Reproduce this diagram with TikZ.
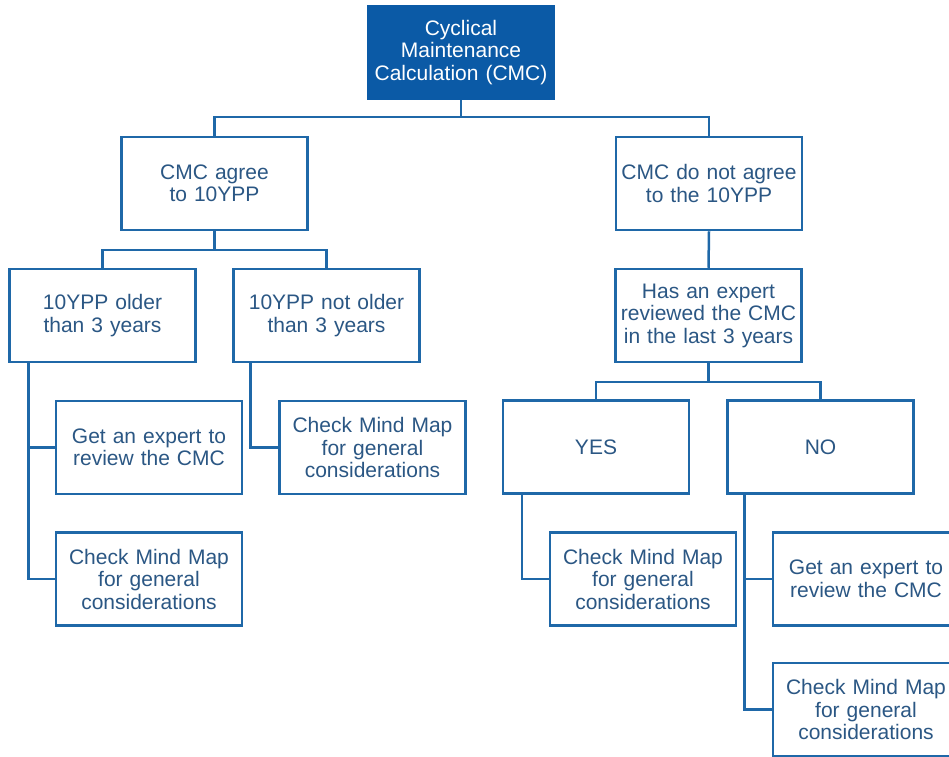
\documentclass[tikz,border=0pt]{standalone}
\usepackage{fontspec}
\setmainfont{Liberation Sans}
\definecolor{linec}{HTML}{1F68A8}
\definecolor{textc}{HTML}{2B5784}
\definecolor{topfill}{HTML}{0B5AA6}
\begin{document}
\begin{tikzpicture}[x=1pt,y=-1pt,
  box/.style={draw=linec, line width=2.5pt, fill=white, minimum width=186pt, minimum height=93pt,
    inner sep=2pt, align=center, text=textc, font=\fontsize{21}{22.5}\selectfont, text width=182pt},
  topbox/.style={box, fill=topfill, draw=topfill, text=white},
  conn/.style={draw=linec, line width=2.5pt}]
\useasboundingbox (0,0) rectangle (949,756);
\node[topbox] (top) at (461,52.5) {Cyclical\\Maintenance\\Calculation (CMC)};
\node[box] (agree) at (214.5,183.5) {CMC agree\\to 10YPP};
\node[box] (notagree) at (709,183.5) {CMC do not agree\\to the 10YPP};
\node[box] (older) at (102.5,315.5) {10YPP older\\than 3 years};
\node[box] (notolder) at (326.5,315.5) {10YPP not older\\than 3 years};
\node[box] (expertq) at (708.5,315.5) {Has an expert\\reviewed the CMC\\in the last 3 years};
\node[box] (yes) at (596,447) {YES\\[22pt]};
\node[box] (no) at (820.5,447) {NO\\[22pt]};
\node[box] (getL) at (149,447.5) {Get an expert to\\review the CMC};
\node[box] (checkM) at (372.5,447.5) {Check Mind Map\\for general\\considerations};
\node[box] (checkL) at (149,579) {Check Mind Map\\for general\\considerations};
\node[box] (checkY) at (643,579) {Check Mind Map\\for general\\considerations};
\node[box] (getR) at (866,579) {Get an expert to\\review the CMC};
\node[box] (checkR) at (866,709.5) {Check Mind Map\\for general\\considerations};
\coordinate (j1) at (461,117);
\coordinate (j2) at (214.5,250);
\coordinate (j3) at (708.5,382);
\draw[conn] (top.south) -- (j1);
\draw[conn] (j1) -| (agree.north);
\draw[conn] (j1) -| (notagree.north);
\draw[conn] (agree.south) -- (j2);
\draw[conn] (j2) -| (older.north);
\draw[conn] (j2) -| (notolder.north);
\draw[conn] (notagree.south) -- (expertq.north);
\draw[conn] (expertq.south) -- (j3);
\draw[conn] (j3) -| (yes.north);
\draw[conn] (j3) -| (no.north);
\draw[conn] ([xshift=20pt]older.south west) |- (getL.west);
\draw[conn] ([xshift=20pt]older.south west) |- (checkL.west);
\draw[conn] ([xshift=18pt]notolder.south west) |- (checkM.west);
\draw[conn] ([xshift=20pt]yes.south west) |- (checkY.west);
\draw[conn] ([xshift=18pt]no.south west) |- (getR.west);
\draw[conn] ([xshift=18pt]no.south west) |- (checkR.west);
\end{tikzpicture}
\end{document}
